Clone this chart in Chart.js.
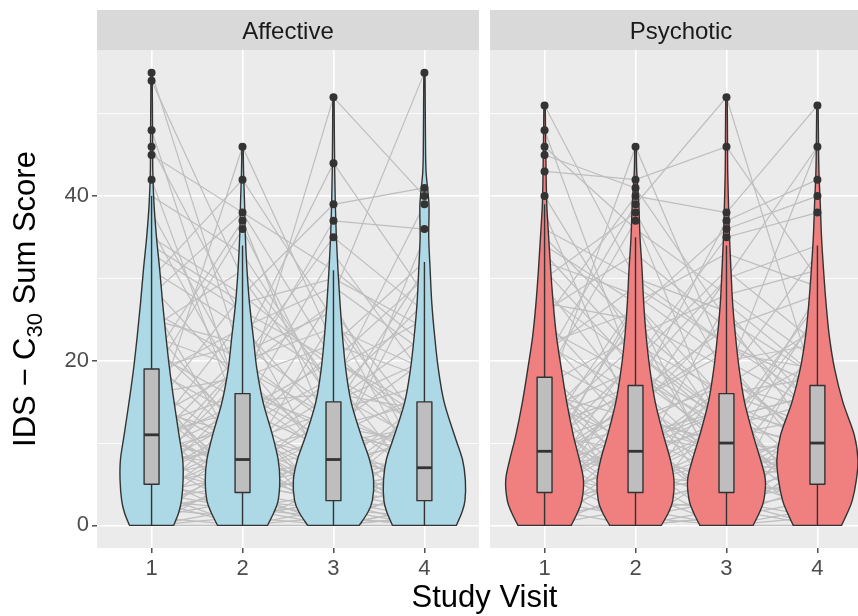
<!DOCTYPE html>
<html>
<head>
<meta charset="utf-8">
<script src="https://cdn.jsdelivr.net/npm/chart.js@4/dist/chart.umd.min.js"></script>
<style>
  html, body { margin: 0; padding: 0; background: #ffffff; overflow: hidden; }
  #wrap { position: relative; width: 858px; height: 616px; }
  #wrap canvas { position: absolute; left: 0; top: 0; }
</style>
</head>
<body>
<div id="wrap">
  <canvas id="affective" width="858" height="616"></canvas>
  <canvas id="psychotic" width="858" height="616"></canvas>
</div>
<script>
// ---- data ----
const visits = [1, 2, 3, 4];
const visitLabels = ['1', '2', '3', '4'];
const panelNames = ['Affective', 'Psychotic'];
const yTickValues = [0, 10, 20, 30, 40, 50];
const yLabelledTicks = [0, 20, 40];
const xAxisTitle = 'Study Visit';
const yAxisTitleParts = ['IDS \u2212 C', '30', ' Sum Score'];

// score levels at which the violin densities are given
const densityLevels = [0, 1.5, 3, 5.5, 8, 11, 15, 19, 23, 27, 31, 35, 39, 43, 47, 51, 55];

// Affective group: box statistics per visit
const affectiveQ1 = [5, 4, 3, 3];
const affectiveMedian = [11, 8, 8, 7];
const affectiveQ3 = [19, 16, 15, 15];
const affectiveWhiskerLow = [0, 0, 0, 0];
const affectiveWhiskerHigh = [40, 34, 31, 32];
const affectiveOutliers = [
  [55, 54, 48, 46, 45, 42],
  [46, 42, 38, 37, 36],
  [52, 44, 39, 37, 35],
  [55, 41, 40, 39, 36]
];
// relative density at each level (last entry = density at the maximum score)
const affectiveDensity = [
  [.54, .66, .73, .77, .76, .67, .55, .44, .35, .27, .20, .12, .06, .03, .025, .02, .015],
  [.61, .76, .87, .91, .87, .73, .50, .35, .26, .17, .11, .07, .05, .025, .017],
  [.63, .83, .95, .98, .88, .67, .43, .30, .22, .16, .11, .07, .045, .03, .022, .017, .015],
  [.78, .91, .99, 1.0, .93, .73, .48, .34, .25, .18, .14, .105, .11, .04, .025, .02, .015]
];
// individual trajectories (visit 1..4)
const affectiveSubjects = [
  [55,20,12,8],[54,30,15,20],[48,14,9,null],[46,25,18,12],[45,38,20,14],[42,12,6,4],
  [12,46,22,18],[30,42,25,10],[28,38,31,22],[20,37,10,5],[18,36,14,8],[10,15,52,40],
  [25,22,44,28],[35,28,39,41],[38,18,37,36],[8,20,35,26],[5,10,28,55],[24,31,17,39],
  [33,26,20,30],[36,16,8,6],[31,24,12,15],[27,8,5,3],[22,12,18,9],[19,22,14,17],
  [17,9,4,2],[16,18,22,32],[15,6,3,1],[14,11,8,7],[13,4,2,0],[12,16,10,12],
  [11,7,9,5],[11,14,20,13],[10,5,3,6],[9,12,6,4],[9,3,1,0],[8,9,12,10],
  [8,2,0,1],[7,10,5,8],[7,4,6,3],[6,8,2,5],[6,1,3,0],[5,7,11,9],
  [5,3,0,2],[4,6,4,7],[4,0,2,1],[3,5,7,3],[3,2,1,4],[2,4,0,0],
  [2,1,3,2],[1,3,2,5],[1,0,0,1],[0,2,4,3],[0,0,1,0],[0,1,0,2],
  [19,13,7,11],[21,15,16,14],[23,19,13,6],[26,20,24,19],[29,17,11,16],[18,24,29,21],
  [14,28,19,25],[12,6,15,23],[10,21,26,12],[9,14,33,18],[7,18,9,30],[6,12,21,11],
  [4,9,16,27],[3,11,6,14],[2,7,13,9],[16,5,8,35],[20,10,4,13],[13,19,27,7],
  [40,33,16,10],[34,27,30,24],[11,25,5,9],[5,16,12,20],[8,13,3,16],[15,9,18,4],
  [3,14,9,12],[1,8,5,6],[17,3,10,2],[6,20,7,15],[24,11,2,8],[9,7,25,5],
  [2,10,14,31],[0,6,8,10],[12,3,7,1],[7,13,2,11],[4,2,9,0],[10,8,1,4],
  [3,0,5,8],[14,6,11,3],[1,5,3,7],[6,11,0,5]
];

// Psychotic group
const psychoticQ1 = [4, 4, 4, 5];
const psychoticMedian = [9, 9, 10, 10];
const psychoticQ3 = [18, 17, 16, 17];
const psychoticWhiskerLow = [0, 0, 0, 0];
const psychoticWhiskerHigh = [39, 35, 34, 34];
const psychoticOutliers = [
  [51, 48, 46, 45, 43, 40],
  [46, 42, 41, 40, 39, 38, 37],
  [52, 46, 38, 37, 36, 35],
  [51, 46, 42, 40, 38]
];
const psychoticDensity = [
  [.65, .80, .91, .95, .85, .70, .54, .41, .29, .21, .15, .10, .054, .037, .025, .017],
  [.63, .80, .91, .94, .85, .68, .48, .35, .26, .20, .16, .11, .08, .03, .02],
  [.65, .80, .91, .95, .83, .65, .44, .31, .22, .15, .11, .073, .05, .03, .025, .02, .017],
  [.59, .73, .85, .95, .99, .90, .62, .42, .29, .21, .15, .10, .07, .037, .025, .017]
];
const psychoticSubjects = [
  [51,30,22,15],[48,18,12,10],[46,36,28,20],[43,42,46,30],[45,41,25,18],[40,22,16,12],
  [15,46,20,14],[25,40,38,51],[20,39,52,16],[30,38,18,46],[18,37,10,8],[12,16,37,42],
  [22,26,36,40],[28,20,35,38],[8,14,30,46],[35,24,15,10],[32,28,20,22],[38,12,9,6],
  [26,33,24,28],[24,18,30,34],[36,30,26,14],[33,21,12,25],[29,15,8,11],[27,25,19,9],
  [23,11,14,20],[21,29,22,17],[19,8,6,3],[17,23,28,31],[16,13,17,24],[15,10,4,5],
  [14,19,11,13],[13,5,9,7],[12,22,13,16],[11,9,16,18],[10,17,7,12],[10,3,2,4],
  [9,12,18,10],[9,6,5,8],[8,1,3,0],[8,15,21,19],[7,11,9,6],[7,2,0,1],
  [6,9,12,15],[6,4,6,2],[5,13,10,9],[5,0,1,3],[4,7,3,5],[4,10,14,11],
  [3,5,8,6],[3,1,0,2],[2,6,4,7],[2,0,2,0],[1,3,5,4],[1,8,0,9],
  [0,2,3,1],[0,0,1,5],[0,4,0,0],[18,6,12,27],[20,14,25,10],[11,27,15,6],
  [9,20,31,22],[14,3,18,33],[6,16,24,13],[3,12,7,21],[13,24,5,8],[17,9,14,3],
  [22,16,2,12],[4,18,10,28],[2,9,17,14],[7,27,11,4],[12,4,20,7],[5,21,13,16],
  [16,7,27,18],[1,11,6,10],[10,14,8,26],[8,26,4,11],[25,13,10,5],[31,19,13,9],
  [34,27,33,29],[3,15,22,17],[6,1,15,2],[11,6,0,14],[0,7,12,3],[2,19,9,0],
  [19,0,7,6],[13,17,3,23],[9,2,6,12],[4,12,1,8],[15,5,10,2],[7,9,4,13],
  [1,6,11,3],[11,3,8,6],[5,10,2,9],[3,8,13,4]
];

// ---- styling ----
const FONT = '"Liberation Sans", Arial, Helvetica, sans-serif';
const OUTLINE = '#333333';
const PANEL_BG = '#EBEBEB';
const STRIP_BG = '#D9D9D9';
const LINE_GREY = '#BEBEBE';
const BOX_FILL = '#BEBEBE';
const VIOLIN_HALF_WIDTH = 0.45;   // x units at relative density 1
const BOX_HALF_WIDTH = 0.082;     // x units
const X_MIN = 0.4, X_MAX = 4.6;   // full facet range

const charts = {};

function catmullRom(ctx, pts) {
  for (let i = 0; i < pts.length - 1; i++) {
    const p0 = pts[i - 1] || pts[i];
    const p1 = pts[i];
    const p2 = pts[i + 1];
    const p3 = pts[i + 2] || pts[i + 1];
    ctx.bezierCurveTo(
      p1.x + (p2.x - p0.x) / 6, p1.y + (p2.y - p0.y) / 6,
      p2.x - (p3.x - p1.x) / 6, p2.y - (p3.y - p1.y) / 6,
      p2.x, p2.y
    );
  }
}

function drawViolinsAndBoxes(chart, g) {
  const ctx = chart.ctx;
  const xs = chart.scales.x, ys = chart.scales.y;
  ctx.save();
  visits.forEach((v, i) => {
    const cx = xs.getPixelForValue(v);
    const dens = g.density[i];
    const top = Math.max(...g.outliers[i]);
    const prof = [];
    densityLevels.forEach((lev, k) => {
      if (lev < top && k < dens.length - 1) prof.push([lev, dens[k]]);
    });
    prof.push([top, dens[dens.length - 1]]);
    const left = prof.map(([lev, d]) => ({ x: xs.getPixelForValue(v - d * VIOLIN_HALF_WIDTH), y: ys.getPixelForValue(lev) }));
    const right = prof.map(([lev, d]) => ({ x: xs.getPixelForValue(v + d * VIOLIN_HALF_WIDTH), y: ys.getPixelForValue(lev) })).reverse();

    // violin body
    ctx.beginPath();
    ctx.moveTo(left[0].x, left[0].y);
    catmullRom(ctx, left);
    ctx.lineTo(right[0].x, right[0].y);
    catmullRom(ctx, right);
    ctx.closePath();
    ctx.fillStyle = g.fill;
    ctx.fill();
    ctx.lineWidth = 1.4;
    ctx.strokeStyle = OUTLINE;
    ctx.lineJoin = 'round';
    ctx.stroke();

    // whiskers
    ctx.beginPath();
    ctx.moveTo(cx, ys.getPixelForValue(g.whiskerLow[i]));
    ctx.lineTo(cx, ys.getPixelForValue(g.q1[i]));
    ctx.moveTo(cx, ys.getPixelForValue(g.q3[i]));
    ctx.lineTo(cx, ys.getPixelForValue(g.whiskerHigh[i]));
    ctx.lineWidth = 1.4;
    ctx.stroke();

    // box
    const bx0 = xs.getPixelForValue(v - BOX_HALF_WIDTH);
    const bx1 = xs.getPixelForValue(v + BOX_HALF_WIDTH);
    const by0 = ys.getPixelForValue(g.q3[i]);
    const by1 = ys.getPixelForValue(g.q1[i]);
    ctx.fillStyle = BOX_FILL;
    ctx.fillRect(bx0, by0, bx1 - bx0, by1 - by0);
    ctx.strokeRect(bx0, by0, bx1 - bx0, by1 - by0);

    // median
    const my = ys.getPixelForValue(g.median[i]);
    ctx.beginPath();
    ctx.moveTo(bx0, my);
    ctx.lineTo(bx1, my);
    ctx.lineWidth = 2.8;
    ctx.stroke();
  });
  ctx.restore();
}

const panelPlugin = {
  id: 'panelDecor',
  beforeDraw(chart) {
    const g = chart.config.options.group;
    const a = chart.chartArea;
    const ctx = chart.ctx;
    ctx.save();
    ctx.fillStyle = PANEL_BG;
    ctx.fillRect(a.left, a.top, a.right - a.left, a.bottom - a.top);
    // facet strip
    ctx.fillStyle = STRIP_BG;
    ctx.fillRect(a.left, 10, a.right - a.left, a.top - 10);
    ctx.fillStyle = '#1A1A1A';
    ctx.font = '24px ' + FONT;
    ctx.textAlign = 'center';
    ctx.textBaseline = 'alphabetic';
    ctx.fillText(g.name, chart.scales.x.getPixelForValue((X_MIN + X_MAX) / 2), 38.5);
    ctx.restore();
  },
  beforeDatasetDraw(chart, args) {
    const ds = chart.data.datasets[args.index];
    if (ds.role === 'outliers') drawViolinsAndBoxes(chart, chart.config.options.group);
  },
  afterDraw(chart) {
    const g = chart.config.options.group;
    const ctx = chart.ctx;
    const a = chart.chartArea;
    ctx.save();
    ctx.fillStyle = '#000000';
    if (g.yTitle) {
      const big = '31px ' + FONT, small = '22px ' + FONT;
      ctx.font = big;
      const w1 = ctx.measureText(yAxisTitleParts[0]).width;
      const w3 = ctx.measureText(yAxisTitleParts[2]).width;
      ctx.font = small;
      const w2 = ctx.measureText(yAxisTitleParts[1]).width;
      const start = -(w1 + w2 + w3) / 2;
      ctx.translate(35, (a.top + a.bottom) / 2);
      ctx.rotate(-Math.PI / 2);
      ctx.textBaseline = 'alphabetic';
      ctx.textAlign = 'left';
      ctx.font = big;
      ctx.fillText(yAxisTitleParts[0], start, 0);
      ctx.font = small;
      ctx.fillText(yAxisTitleParts[1], start + w1, 7);
      ctx.font = big;
      ctx.fillText(yAxisTitleParts[2], start + w1 + w2, 0);
    }
    if (g.xTitle && charts.Affective) {
      const l = charts.Affective.chartArea.left;
      const r = chart.scales.x.getPixelForValue(X_MAX);
      ctx.font = '31px ' + FONT;
      ctx.textAlign = 'center';
      ctx.textBaseline = 'alphabetic';
      ctx.fillText(xAxisTitle, (l + r) / 2, 607);
    }
    ctx.restore();
  }
};

function buildPanel(canvasId, g) {
  const outlierPoints = [];
  g.outliers.forEach((list, i) => list.forEach(val => outlierPoints.push({ x: visits[i], y: val })));
  const datasets = [{
    role: 'outliers',
    data: outlierPoints,
    order: 0,
    pointRadius: 4,
    pointBackgroundColor: OUTLINE,
    pointBorderWidth: 0,
    showLine: false
  }];
  g.subjects.forEach(row => {
    datasets.push({
      data: row.map((val, i) => ({ x: visits[i], y: val })).filter(p => p.y !== null),
      order: 1,
      showLine: true,
      spanGaps: true,
      pointRadius: 0,
      borderColor: LINE_GREY,
      borderWidth: 1.2,
      tension: 0
    });
  });

  return new Chart(document.getElementById(canvasId), {
    type: 'scatter',
    data: { datasets },
    options: {
      group: g,
      responsive: false,
      animation: false,
      events: [],
      layout: { autoPadding: false, padding: { top: 50, left: 0, right: g.rightPad, bottom: 0 } },
      plugins: { legend: { display: false }, tooltip: { enabled: false }, title: { display: false } },
      scales: {
        x: {
          type: 'linear',
          min: X_MIN,
          max: g.xMax,
          afterBuildTicks: s => { s.ticks = visits.map(v => ({ value: v })); },
          afterFit: s => { s.height = 68; },
          border: { display: false },
          grid: { color: '#FFFFFF', lineWidth: 1.6, drawTicks: true, tickLength: 5, tickColor: OUTLINE, tickWidth: 1.3 },
          ticks: {
            color: '#4D4D4D',
            font: { family: FONT, size: 22 },
            padding: 3,
            maxRotation: 0,
            callback: v => visitLabels[visits.indexOf(v)]
          }
        },
        y: {
          type: 'linear',
          min: -2.75,
          max: 57.75,
          afterBuildTicks: s => { s.ticks = yTickValues.map(v => ({ value: v })); },
          afterFit: s => { s.width = g.yWidth; },
          border: { display: false },
          grid: {
            color: '#FFFFFF',
            lineWidth: c => (c.tick && yLabelledTicks.includes(c.tick.value)) ? 1.6 : 0.8,
            drawTicks: g.yTitle,
            tickLength: 5,
            tickWidth: 1.3,
            tickColor: c => (c.tick && yLabelledTicks.includes(c.tick.value)) ? OUTLINE : 'rgba(0,0,0,0)'
          },
          ticks: {
            display: g.yTitle,
            color: '#4D4D4D',
            font: { family: FONT, size: 22 },
            padding: 3,
            callback: v => yLabelledTicks.includes(v) ? String(v) : ''
          }
        }
      }
    },
    plugins: [panelPlugin]
  });
}

charts.Affective = buildPanel('affective', {
  name: panelNames[0], fill: '#ADD8E6',
  q1: affectiveQ1, median: affectiveMedian, q3: affectiveQ3,
  whiskerLow: affectiveWhiskerLow, whiskerHigh: affectiveWhiskerHigh,
  outliers: affectiveOutliers, density: affectiveDensity, subjects: affectiveSubjects,
  yWidth: 97, rightPad: 379, xMax: X_MAX, yTitle: true, xTitle: false
});
// the right facet runs past the canvas edge, so only part of its x range is visible
charts.Psychotic = buildPanel('psychotic', {
  name: panelNames[1], fill: '#F08080',
  q1: psychoticQ1, median: psychoticMedian, q3: psychoticQ3,
  whiskerLow: psychoticWhiskerLow, whiskerHigh: psychoticWhiskerHigh,
  outliers: psychoticOutliers, density: psychoticDensity, subjects: psychoticSubjects,
  yWidth: 490, rightPad: 0, xMax: X_MIN + (858 - 490) / (382 / (X_MAX - X_MIN)), yTitle: false, xTitle: true
});
</script>
</body>
</html>
